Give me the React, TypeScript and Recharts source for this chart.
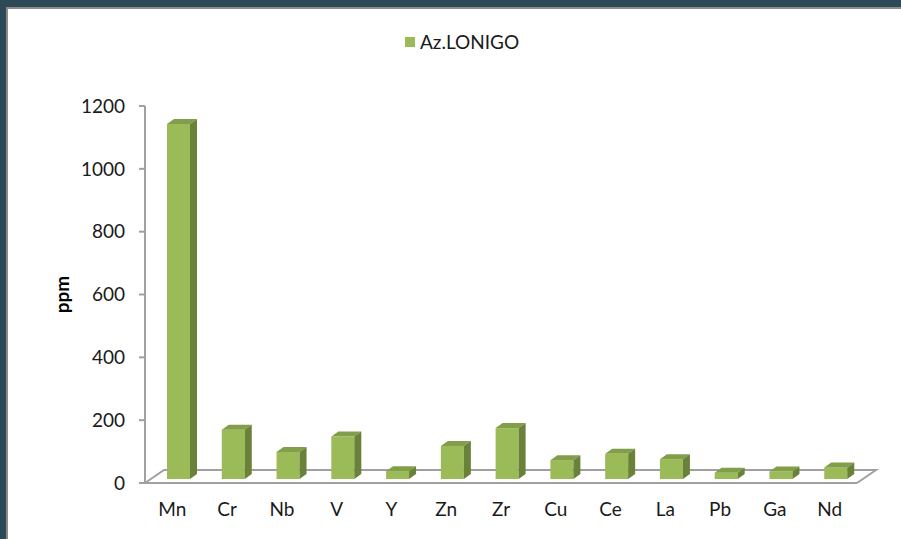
import React from "react"
import { Bar, BarChart, Customized, Legend, XAxis, YAxis } from "recharts"
import * as R from "recharts"

const elements = ["Mn", "Cr", "Nb", "V", "Y", "Zn", "Zr", "Cu", "Ce", "La", "Pb", "Ga", "Nd"]
const ppm = [1130, 157, 86, 135, 25, 105, 162, 60, 80, 63, 20, 24, 37]
const yTicks = [0, 200, 400, 600, 800, 1000, 1200]
const seriesName = "Az.LONIGO"

const data = elements.map((el, i) => ({ name: el, value: ppm[i] }))

const FONT = "Lato, 'Liberation Sans', sans-serif"
const FRONT = "#9BBB59"
const SIDE = "#6A8139"
const TOP = "#819F48"
const GRID = "#a0a0a0"
const FRAME = "#2c4a55"

// bars sit a bit back from the front edge of the floor
const SHIFT_X = 6
const SHIFT_Y = -4
const DEPTH_X = 7
const DEPTH_Y = -5
// floor depth
const FLOOR_X = 19
const FLOOR_Y = -13

const usePlot: any = (R as any).usePlotArea

function Floor() {
  const area = usePlot ? usePlot() : null
  if (!area) return null
  const left = area.x
  const right = area.x + area.width
  const bottom = area.y + area.height
  return (
    <g>
      <polyline
        points={`${left},${bottom} ${left + FLOOR_X},${bottom + FLOOR_Y} ${right + FLOOR_X},${bottom + FLOOR_Y} ${right},${bottom}`}
        fill="none"
        stroke={GRID}
        strokeWidth={2}
      />
      <line x1={left} y1={bottom} x2={right} y2={bottom} stroke={GRID} strokeWidth={2} />
    </g>
  )
}

function Bar3D(props: any) {
  const { x, y, width, height } = props
  if (width == null || height == null) return null
  const x0 = x + SHIFT_X
  const y0 = y + SHIFT_Y
  const x1 = x0 + width
  const y1 = y0 + height
  return (
    <g>
      <rect x={x0} y={y0} width={width} height={height} fill={FRONT} />
      <polygon
        points={`${x0},${y0} ${x0 + DEPTH_X},${y0 + DEPTH_Y} ${x1 + DEPTH_X},${y0 + DEPTH_Y} ${x1},${y0}`}
        fill={TOP}
      />
      <polygon
        points={`${x1},${y0} ${x1 + DEPTH_X},${y0 + DEPTH_Y} ${x1 + DEPTH_X},${y1 + DEPTH_Y} ${x1},${y1}`}
        fill={SIDE}
      />
    </g>
  )
}

function LegendBox() {
  return (
    <div style={{ display: "flex", alignItems: "center", fontFamily: FONT, fontSize: 19, color: "#1a1a1a" }}>
      <span style={{ display: "inline-block", width: 10, height: 10, background: FRONT, marginRight: 5 }} />
      <span>{seriesName}</span>
    </div>
  )
}

export default function App() {
  return (
    <div
      style={{
        position: "absolute",
        left: 0,
        top: 0,
        width: 895,
        height: 532,
        background: "#ffffff",
        borderTop: `7px solid ${FRAME}`,
        borderLeft: `6px solid ${FRAME}`,
      }}
    >
      <style>{`body { margin: 0; }`}</style>
      <div
        style={{
          position: "absolute",
          left: 0,
          top: 0,
          width: 895,
          height: 532,
          borderLeft: "2px solid #8c8c8c",
          borderTop: "2px solid #8c8c8c",
          boxSizing: "border-box",
        }}
      />
      <div style={{ position: "absolute", left: -6, top: -7 }}>
        <BarChart
          width={901}
          height={539}
          data={data}
          margin={{ top: 106, right: 44, bottom: 16, left: 85 }}
          barSize={23}
        >
          <Customized component={Floor} />
          <XAxis
            dataKey="name"
            axisLine={false}
            tickLine={false}
            tickSize={0}
            tickMargin={20}
            height={40}
            interval={0}
            tick={{ fontSize: 19, fontFamily: FONT, fill: "#1a1a1a" }}
          />
          <YAxis
            domain={[0, 1200]}
            ticks={yTicks}
            width={60}
            axisLine={{ stroke: GRID, strokeWidth: 2 }}
            tickLine={{ stroke: GRID, strokeWidth: 2 }}
            tickSize={6}
            tickMargin={14}
            tick={{ fontSize: 19, fontFamily: FONT, fill: "#1a1a1a" }}
            label={{
              value: "ppm",
              content: (p: any) => {
                const vb = p.viewBox || { x: 85, y: 106, height: 377 }
                const cx = vb.x - 24
                const cy = vb.y + vb.height / 2
                return (
                  <text
                    x={cx}
                    y={cy}
                    transform={`rotate(-90, ${cx}, ${cy})`}
                    textAnchor="middle"
                    dominantBaseline="central"
                    fontFamily={FONT}
                    fontWeight="bold"
                    fontSize={19}
                    fill="#000"
                  >
                    ppm
                  </text>
                )
              },
            }}
          />
          <Legend
            layout="horizontal"
            verticalAlign="middle"
            align="center"
            wrapperStyle={{ top: 30, left: 405, width: "auto" }}
            content={() => <LegendBox />}
          />
          <Bar dataKey="value" name={seriesName} fill={FRONT} shape={<Bar3D />} isAnimationActive={false} />
        </BarChart>
      </div>
    </div>
  )
}
